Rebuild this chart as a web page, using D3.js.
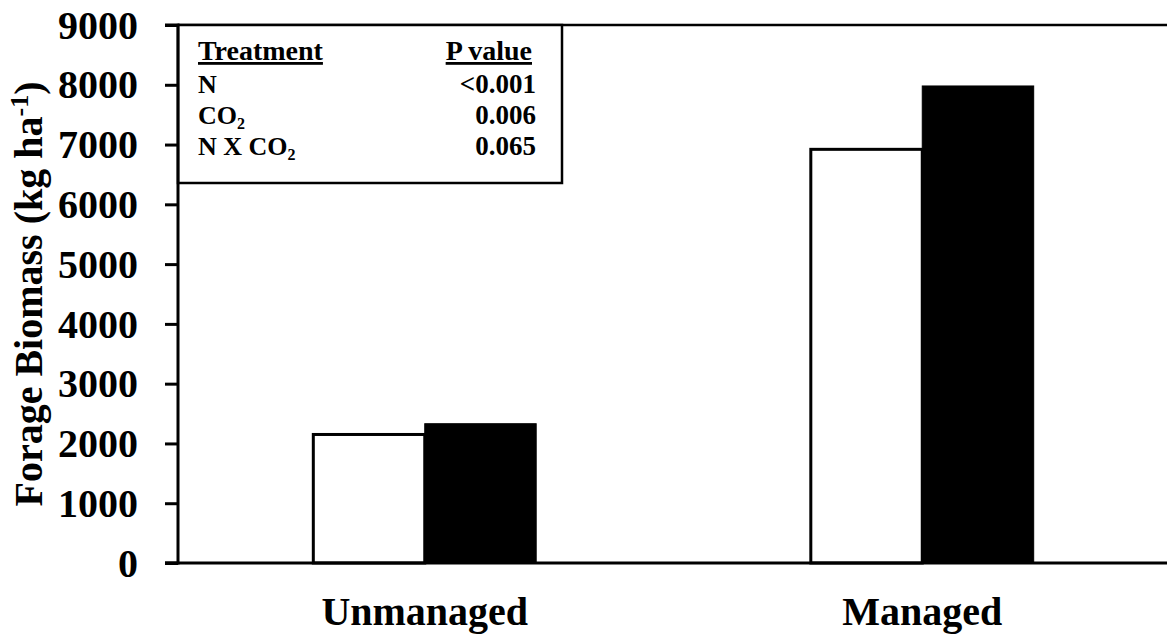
<!DOCTYPE html>
<html lang="en">
<head>
    <meta charset="UTF-8">
    <title>Forage Biomass</title>
    <style>
        body { margin: 0; background: #fff; }
        svg { display: block; font-family: "Liberation Serif", "Times New Roman", serif; font-weight: bold; }
    </style>
    <script src="https://d3js.org/d3.v7.min.js"></script>
</head>
<body>
    <div id="svg"></div>
    <script>
        const categories = ["Unmanaged", "Managed"];
        const series = ["ambient", "elevated"];
        const ambientValues = [2150, 6920];
        const elevatedValues = [2330, 7980];
        const yTicks = [0, 1000, 2000, 3000, 4000, 5000, 6000, 7000, 8000, 9000];
        const treatments = ["N", "CO2", "N X CO2"];
        const pValues = ["<0.001", "0.006", "0.065"];

        const data = categories.map((c, i) => ({ name: c, ambient: ambientValues[i], elevated: elevatedValues[i] }));

        const boxWidth = 1167, boxHeight = 635;
        const axisX = 178, plotTop = 25, plotBottom = 563;

        const svg = d3.select("#svg").append("svg")
            .attr("width", boxWidth).attr("height", boxHeight);

        const yScale = d3.scaleLinear().domain([0, 9000]).range([plotBottom, plotTop]);

        const xScale = d3.scaleBand().domain(categories).range([176, 1171]).padding(0);
        const barW = xScale.bandwidth() * 0.224;
        const xSub = d3.scaleBand().domain(series).range([0, barW * 2]);

        // bars
        const groups = svg.selectAll(".grp").data(data).enter().append("g")
            .attr("class", "grp")
            .attr("transform", d => `translate(${xScale(d.name) + xScale.bandwidth() / 2 - barW}, 0)`);

        groups.selectAll("rect").data(d => series.map(s => ({ key: s, value: d[s] }))).enter().append("rect")
            .attr("x", d => xSub(d.key))
            .attr("y", d => yScale(d.value))
            .attr("width", xSub.bandwidth())
            .attr("height", d => plotBottom - yScale(d.value))
            .attr("fill", d => d.key === "ambient" ? "#fff" : "#000")
            .attr("stroke", "#000")
            .attr("stroke-width", d => d.key === "ambient" ? 3 : 1);

        // top border
        svg.append("line")
            .attr("x1", axisX).attr("x2", boxWidth)
            .attr("y1", plotTop).attr("y2", plotTop)
            .attr("stroke", "#000").attr("stroke-width", 2.5);

        // legend box (its left side sits on the y axis)
        const lg = svg.append("g");
        lg.append("rect")
            .attr("x", axisX).attr("y", plotTop).attr("width", 384).attr("height", 158)
            .attr("fill", "#fff").attr("stroke", "#000").attr("stroke-width", 2.5);

        const lx = 198, rx = 532;
        lg.append("text").attr("x", lx).attr("y", 60).style("font-size", "28px")
            .style("text-decoration", "underline").text("Treatment");
        lg.append("text").attr("x", rx).attr("y", 60).attr("text-anchor", "end").style("font-size", "28px")
            .style("text-decoration", "underline").text("P value");

        treatments.forEach((t, i) => {
            const y = 93 + i * 31;
            const tx = lg.append("text").attr("x", lx).attr("y", y).style("font-size", "26px");
            if (t.endsWith("CO2")) {
                tx.append("tspan").text(t.slice(0, -1));
                tx.append("tspan").attr("dy", 5).style("font-size", "16px").text("2");
            } else {
                tx.text(t);
            }
            lg.append("text").attr("x", rx + 4).attr("y", y).attr("text-anchor", "end")
                .style("font-size", "27px").text(pValues[i]);
        });

        // y axis
        const yAxis = d3.axisLeft(yScale).tickValues(yTicks).tickSize(13).tickPadding(27).tickFormat(d3.format("d"));
        const ya = svg.append("g").attr("transform", `translate(${axisX}, 0)`).call(yAxis);
        ya.select(".domain").attr("stroke-width", 3).attr("d", `M-13,${plotTop}H0V${plotBottom}H-13`);
        ya.selectAll(".tick line").attr("stroke-width", 3);
        ya.selectAll(".tick text")
            .style("font-family", "Liberation Serif, serif")
            .style("font-weight", "bold")
            .style("font-size", "40px")
            .attr("dy", "0.33em")
            .attr("fill", "#000");

        // x axis
        const xAxis = d3.axisBottom(xScale).tickSize(0);
        const xa = svg.append("g").attr("transform", `translate(0, ${plotBottom})`).call(xAxis);
        xa.select(".domain").remove();
        svg.append("line")
            .attr("x1", axisX - 13).attr("x2", boxWidth)
            .attr("y1", plotBottom).attr("y2", plotBottom)
            .attr("stroke", "#000").attr("stroke-width", 3);
        xa.selectAll(".tick text")
            .style("font-family", "Liberation Serif, serif")
            .style("font-weight", "bold")
            .style("font-size", "40px")
            .attr("y", 62).attr("dy", 0)
            .attr("fill", "#000");

        // y title
        const yt = svg.append("text")
            .attr("transform", `translate(42, ${(plotTop + plotBottom) / 2}) rotate(-90)`)
            .attr("text-anchor", "middle")
            .style("font-size", "40px");
        yt.append("tspan").text("Forage Biomass (kg ha");
        yt.append("tspan").attr("dy", -14).style("font-size", "26px").text("-1");
        yt.append("tspan").attr("dy", 14).text(")");
    </script>
</body>
</html>
